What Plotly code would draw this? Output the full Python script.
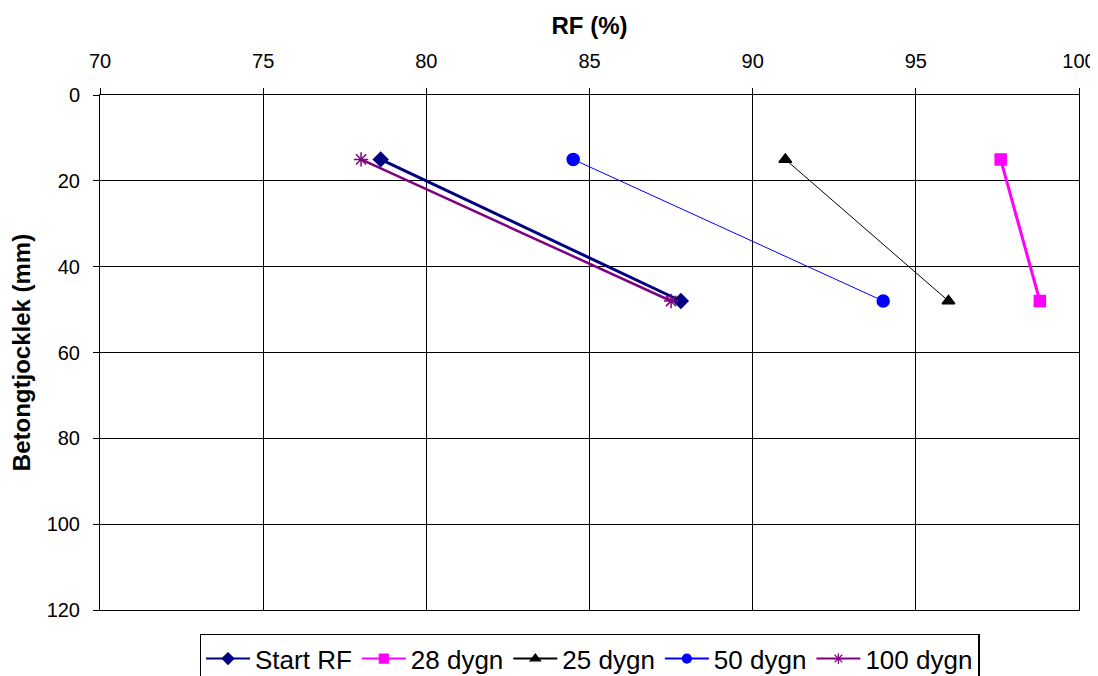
import plotly.graph_objects as go

depth = [15, 48]
start_rf = [78.6, 87.8]
d28 = [97.6, 98.8]
d25 = [91.0, 96.0]
d50 = [84.5, 94.0]
d100 = [78.0, 87.5]

series = [
    ("Start RF", start_rf, "#000080", "diamond", 11, 3),
    ("28 dygn", d28, "#FF00FF", "square", 11, 3),
    ("25 dygn", d25, "#000000", "triangle-up", 11, 1),
    ("50 dygn", d50, "#0000FF", "circle", 12, 1),
    ("100 dygn", d100, "#800080", "asterisk-open", 12, 2.5),
]

fig = go.Figure()
for name, xs, col, sym, ms, lw in series:
    fig.add_trace(go.Scatter(
        x=xs, y=depth, name=name, mode="lines+markers", showlegend=False,
        line=dict(color=col, width=lw),
        marker=dict(symbol=sym, size=ms, color=col, line=dict(color=col, width=1.5)),
    ))
# legend entries (smaller symbols as in the original legend)
for name, xs, col, sym, ms, lw in series:
    fig.add_trace(go.Scatter(
        x=[None], y=[None], name=name, mode="lines+markers", showlegend=True,
        line=dict(color=col, width=2),
        marker=dict(symbol=sym, size=9, color=col, line=dict(color=col, width=1.2)),
    ))

fig.update_layout(
    width=1090, height=668,
    margin=dict(l=92, r=19, t=87, b=66, autoexpand=False),
    paper_bgcolor="white", plot_bgcolor="white",
    font=dict(family="Liberation Sans, Arial, sans-serif", size=20, color="black"),
    xaxis=dict(
        side="top", range=[70, 100], dtick=5, tick0=70,
        showgrid=True, gridcolor="black", gridwidth=1,
        showline=True, linecolor="black", mirror=True,
        ticks="outside", ticklen=6, tickcolor="black",
        zeroline=False, automargin=False, ticklabelstandoff=12,
        title=dict(text="<b>RF (%)</b>", font=dict(size=24), standoff=8),
    ),
    yaxis=dict(
        autorange=False, range=[120, 0], dtick=20, tick0=0,
        showgrid=True, gridcolor="black", gridwidth=1,
        showline=True, linecolor="black", mirror=True,
        ticks="outside", ticklen=6, tickcolor="black",
        zeroline=False, automargin=False, ticklabelstandoff=9,
        title=dict(text="<b>Betongtjocklek (mm)</b>", font=dict(size=24), standoff=14),
    ),
    legend=dict(
        orientation="h", x=0.5, xanchor="center", y=-0.046, yanchor="top",
        bordercolor="black", borderwidth=1.5, font=dict(size=26),
        itemwidth=44, tracegroupgap=0, itemsizing="trace",
    ),
    showlegend=True,
)

fig.write_html("out.html")
